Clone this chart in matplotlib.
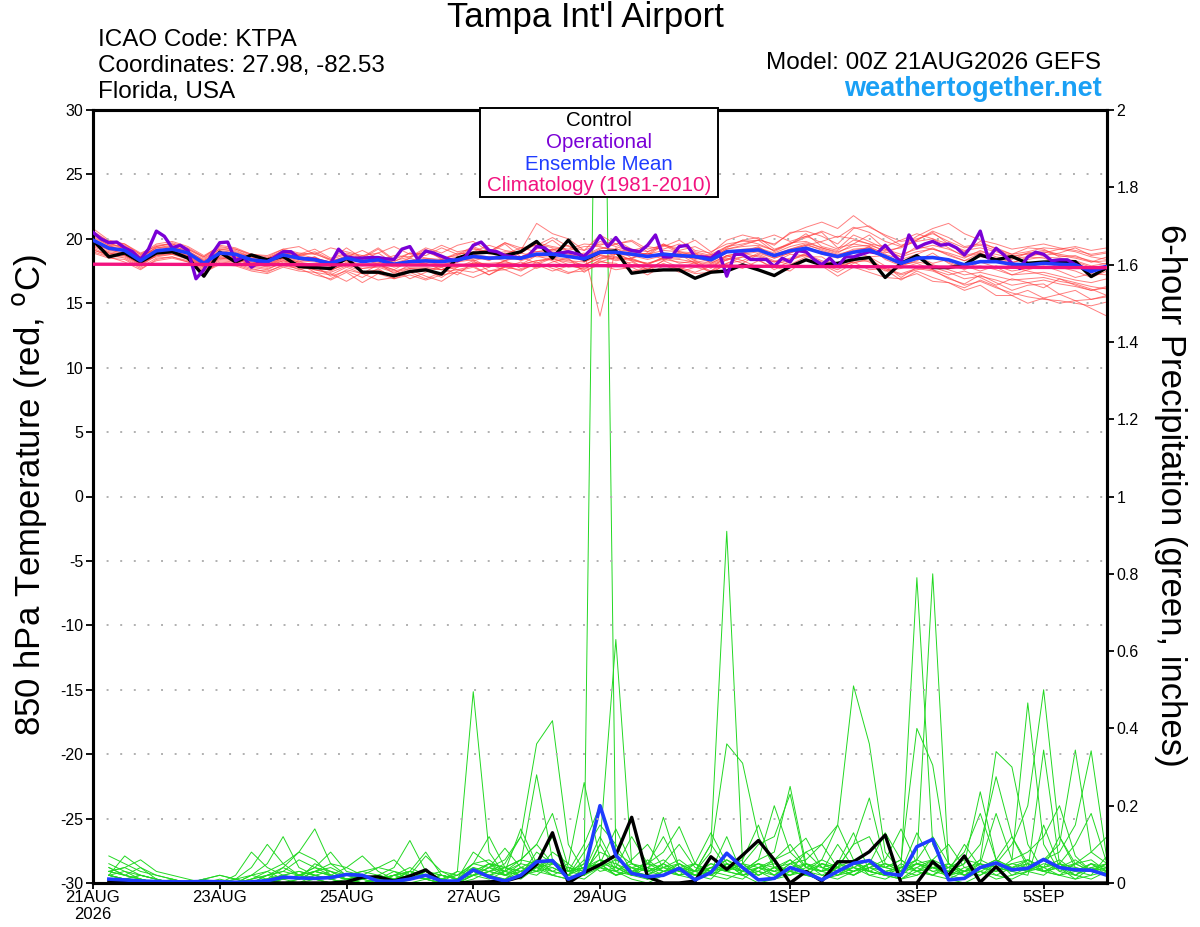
import matplotlib
matplotlib.use('Agg')
import matplotlib.pyplot as plt
from matplotlib.patches import Rectangle

plt.rcParams['font.family'] = ['Liberation Sans', 'DejaVu Sans']

# ---------------- data ----------------
temp_hours = list(range(0, 385, 6))          # 65 points
oper_hours = list(range(0, 385, 3))          # 129 points
precip_hours = list(range(6, 385, 6))        # 64 points
clim_hours = list(range(0, 385, 24))         # 17 points

xtick_hours = [0, 48, 96, 144, 192, 264, 312, 360]
xtick_labels = ['21AUG\n2026', '23AUG', '25AUG', '27AUG', '29AUG', '1SEP', '3SEP', '5SEP']

temp_ticks = [-30, -25, -20, -15, -10, -5, 0, 5, 10, 15, 20, 25, 30]
precip_ticks = [0, 0.2, 0.4, 0.6, 0.8, 1.0, 1.2, 1.4, 1.6, 1.8, 2.0]
precip_tick_labels = ['0', '0.2', '0.4', '0.6', '0.8', '1', '1.2', '1.4', '1.6', '1.8', '2']

control_temp = [19.9, 18.6, 18.9, 18.2, 18.9, 19.0, 18.5, 17.1, 18.96, 18.2, 18.75, 18.37, 18.63, 17.85, 17.77, 17.7, 18.5,
                17.41, 17.41, 17.13, 17.46, 17.59, 17.26, 18.5, 18.9, 18.96, 18.7, 19.0, 19.8, 18.5, 19.9, 18.37, 18.96,
                19.07, 17.33, 17.5, 17.59, 17.59, 16.94, 17.41, 17.5, 17.98, 17.59, 17.15, 17.85, 18.37, 17.98, 18.1, 18.4,
                18.55, 17.0, 18.1, 18.7, 17.77, 17.77, 17.98, 18.75, 18.37, 18.63, 18.1, 18.2, 18.23, 18.23, 17.07, 17.77]

mean_temp = [19.9, 19.27, 19.1, 18.3, 19.07, 19.2, 18.9, 18.1, 18.9, 18.8, 18.37, 18.23, 18.75, 18.5, 18.37, 18.1, 18.5,
             18.23, 18.37, 18.03, 18.23, 18.29, 18.23, 18.37, 18.63, 18.5, 18.55, 18.5, 18.81, 18.81, 18.63, 18.45, 18.96,
             18.96, 18.81, 18.63, 18.81, 18.7, 18.63, 18.37, 19.0, 19.07, 19.14, 18.7, 19.07, 19.27, 18.9, 18.63, 18.96,
             19.14, 18.63, 18.1, 18.5, 18.55, 18.37, 17.98, 18.23, 18.23, 18.03, 17.98, 18.1, 18.03, 17.98, 17.46, 17.85]

oper_temp = [20.5, 20.0, 19.7, 19.75, 19.3, 19.0, 18.4, 19.2, 20.6, 20.2, 19.3, 19.5, 19.1, 16.9, 17.6, 18.8, 19.7,
             19.75, 18.3, 18.6, 17.8, 18.2, 18.2, 18.6, 19.0, 19.0, 18.5, 18.45, 18.4, 18.2, 18.1, 19.2, 18.6,
             18.5, 18.5, 18.55, 18.55, 18.45, 18.4, 19.2, 19.4, 18.4, 19.05, 18.9, 18.65, 18.4, 18.3, 18.6, 19.5,
             19.75, 19.1, 19.0, 18.7, 18.6, 18.5, 18.7, 19.4, 19.3, 18.8, 18.9, 19.0, 18.85, 18.65, 19.25, 20.25,
             19.4, 20.1, 19.3, 19.1, 19.0, 19.5, 20.3, 18.6, 18.6, 19.4, 19.5, 18.6, 18.6, 18.5, 19.0, 17.1,
             18.8, 18.8, 18.4, 18.4, 18.4, 17.85, 18.5, 18.2, 19.07, 19.0, 18.4, 18.0, 18.5, 17.85, 18.6, 18.6,
             18.8, 19.0, 18.9, 19.5, 18.8, 18.2, 20.3, 19.3, 19.6, 19.8, 19.5, 19.6, 19.3, 18.75, 19.5, 20.6,
             18.5, 19.27, 18.75, 18.1, 17.7, 18.6, 18.96, 18.8, 18.3, 18.37, 18.37, 18.0, 17.77, 17.6, 17.77, 17.85]

climatology = [18.03, 18.02, 18.01, 18.0, 17.98, 17.97, 17.95, 17.94, 17.92, 17.9, 17.88, 17.86, 17.84, 17.82, 17.8, 17.78, 17.76]

member_temps = [
    [20.2, 19.5, 19.0, 18.6, 19.3, 19.5, 19.0, 18.4, 19.2, 19.0, 18.6, 18.3, 18.9,
     18.8, 18.5, 18.2, 18.7, 18.4, 18.9, 18.1, 18.5, 19.2, 18.4, 18.8, 19.4, 18.9,
     19.6, 18.6, 19.2, 19.9, 19.0, 18.7, 19.8, 19.4, 19.0, 18.8, 19.6, 19.0, 18.7,
     18.6, 19.4, 19.6, 19.9, 19.0, 19.6, 20.2, 19.7, 19.2, 20.3, 19.8, 19.2, 18.6,
     19.0, 19.2, 18.8, 18.3, 18.6, 18.5, 18.2, 18.4, 18.6, 18.5, 18.3, 17.9, 18.1],
    [19.6, 18.9, 18.7, 18.0, 18.8, 18.9, 18.6, 17.8, 18.5, 18.4, 18.0, 17.9, 18.4,
     18.1, 17.4, 17.2, 17.8, 17.3, 18.0, 17.6, 16.9, 17.4, 17.8, 17.2, 18.2, 18.0,
     17.6, 18.0, 18.7, 18.3, 17.8, 18.0, 18.5, 18.9, 18.3, 17.6, 18.3, 18.8, 18.1,
     17.5, 18.4, 18.9, 18.6, 18.2, 18.8, 18.7, 18.0, 17.6, 18.3, 18.6, 17.9, 17.0,
     17.8, 17.6, 16.9, 16.5, 17.2, 16.6, 16.0, 16.4, 16.5, 15.7, 16.0, 15.3, 15.6],
    [20.8, 19.9, 19.6, 18.9, 19.4, 19.7, 19.3, 18.6, 19.5, 19.3, 18.8, 18.6, 19.2,
     19.4, 18.8, 18.4, 19.3, 18.5, 19.2, 18.3, 18.6, 19.3, 18.9, 19.5, 19.8, 19.0,
     19.7, 19.3, 19.5, 20.1, 19.4, 19.1, 20.3, 19.6, 19.8, 19.0, 19.4, 19.9, 19.1,
     18.9, 19.9, 20.3, 20.0, 19.5, 20.5, 20.6, 20.2, 19.6, 20.8, 21.0, 20.2, 19.5,
     19.9, 20.5, 19.6, 19.0, 19.8, 19.2, 18.8, 19.3, 19.2, 18.6, 18.7, 18.2, 18.6],
    [19.3, 18.7, 18.9, 18.2, 18.6, 18.8, 18.4, 17.6, 18.3, 18.2, 17.9, 17.7, 18.1,
     17.6, 17.9, 17.1, 17.5, 17.0, 17.7, 16.9, 17.4, 17.6, 17.0, 17.8, 18.3, 17.5,
     17.8, 18.2, 17.7, 18.2, 18.5, 17.4, 18.2, 18.6, 18.0, 17.5, 18.1, 17.6, 18.2,
     17.3, 18.1, 18.6, 18.4, 17.6, 18.3, 18.9, 18.0, 17.4, 18.1, 18.5, 17.6, 16.8,
     17.5, 17.0, 16.6, 16.2, 16.8, 16.3, 15.6, 16.0, 15.4, 15.0, 15.2, 14.6, 14.0],
    [20.0, 19.3, 19.2, 18.4, 19.0, 19.1, 18.8, 18.2, 18.8, 18.7, 18.4, 18.1, 18.6,
     18.4, 18.6, 18.0, 18.3, 18.7, 18.2, 17.9, 18.5, 18.1, 18.4, 18.2, 18.7, 18.3,
     18.9, 18.3, 18.7, 19.2, 18.6, 18.9, 14.0, 19.3, 18.5, 18.9, 18.4, 18.8, 18.4,
     18.8, 18.3, 19.0, 19.4, 18.6, 19.0, 19.3, 18.8, 18.5, 18.9, 19.4, 18.4, 17.9,
     18.3, 18.9, 18.1, 17.6, 18.2, 17.8, 17.2, 17.6, 17.9, 17.5, 17.0, 17.3, 17.2],
    [19.8, 19.4, 19.3, 18.5, 19.2, 19.4, 19.1, 18.3, 19.0, 18.9, 18.5, 18.4, 19.0,
     18.7, 18.9, 18.3, 18.6, 19.1, 18.5, 18.2, 18.9, 18.5, 18.4, 18.9, 18.8, 19.2,
     18.8, 19.3, 19.0, 19.1, 19.5, 18.6, 19.2, 19.6, 18.9, 18.7, 19.5, 18.9, 18.8,
     18.5, 19.2, 19.5, 19.9, 19.6, 20.4, 20.9, 21.3, 20.8, 21.8, 20.9, 20.3, 19.8,
     20.0, 20.4, 19.8, 19.3, 19.5, 19.1, 18.7, 18.8, 19.0, 18.7, 18.5, 18.2, 18.3],
    [19.1, 18.8, 18.5, 17.8, 18.5, 18.6, 18.3, 17.5, 18.1, 18.0, 17.6, 17.5, 17.9,
     17.7, 17.2, 16.9, 17.6, 17.3, 16.8, 17.0, 17.6, 17.1, 16.7, 17.5, 17.8, 17.2,
     17.9, 17.5, 18.2, 17.7, 17.3, 17.8, 18.3, 17.9, 18.2, 17.6, 18.3, 17.8, 17.4,
     17.9, 18.5, 18.1, 18.8, 18.3, 18.0, 18.6, 18.6, 17.8, 18.6, 18.2, 17.5, 17.7,
     18.1, 17.6, 17.2, 17.5, 17.0, 16.4, 16.9, 16.6, 16.2, 16.9, 16.4, 16.0, 16.3],
    [20.4, 19.6, 19.4, 18.7, 19.5, 19.6, 19.2, 18.6, 19.3, 19.2, 18.7, 18.5, 19.1,
     18.8, 19.2, 18.5, 18.9, 18.6, 19.3, 18.4, 18.9, 18.7, 19.3, 18.8, 19.0, 19.5,
     19.1, 18.9, 19.7, 19.4, 19.2, 19.6, 19.5, 19.9, 19.2, 19.0, 19.6, 19.1, 19.4,
     18.8, 19.4, 19.9, 20.1, 19.2, 19.6, 20.4, 19.4, 19.1, 19.9, 19.6, 19.0, 18.6,
     19.4, 19.2, 18.9, 18.5, 19.1, 18.6, 18.4, 18.9, 18.7, 18.9, 19.3, 18.7, 18.9],
    [19.5, 19.0, 18.8, 18.1, 18.9, 19.0, 18.7, 17.9, 18.7, 18.6, 18.2, 18.0, 18.5,
     18.2, 18.0, 17.5, 18.2, 17.9, 18.1, 17.3, 18.0, 18.1, 17.6, 18.2, 18.4, 17.8,
     18.3, 18.6, 18.1, 18.6, 18.4, 17.9, 18.7, 18.3, 18.5, 18.0, 18.6, 18.1, 18.3,
     17.7, 18.7, 18.9, 19.3, 18.6, 19.1, 19.5, 19.8, 20.2, 20.0, 19.6, 19.4, 19.9,
     20.4, 20.0, 19.3, 18.6, 18.9, 18.4, 17.8, 17.5, 17.2, 16.9, 16.6, 16.3, 16.1],
    [20.6, 19.8, 19.5, 18.8, 19.1, 19.3, 19.0, 18.0, 18.6, 18.5, 18.1, 17.8, 18.3,
     18.0, 17.6, 17.4, 17.9, 17.5, 17.3, 17.2, 17.7, 17.5, 17.9, 17.6, 17.4, 17.8,
     18.3, 17.7, 18.0, 18.5, 18.0, 17.6, 18.4, 18.8, 18.4, 18.0, 18.5, 18.9, 18.3,
     18.1, 18.7, 18.3, 18.9, 18.5, 18.9, 19.4, 18.9, 18.6, 19.0, 18.6, 18.7, 18.2,
     18.6, 18.1, 18.4, 17.9, 17.5, 17.9, 17.5, 17.7, 18.2, 17.8, 17.5, 17.0, 17.5],
    [19.2, 18.6, 18.6, 17.9, 18.7, 18.8, 18.5, 17.7, 18.4, 18.3, 17.8, 17.6, 18.2,
     18.0, 17.7, 17.6, 18.0, 17.7, 17.9, 17.5, 17.8, 17.8, 17.6, 17.9, 18.1, 18.1,
     18.2, 18.0, 18.3, 18.5, 18.3, 18.2, 18.7, 18.6, 18.4, 18.1, 18.5, 18.4, 18.2,
     18.0, 18.6, 18.8, 19.0, 18.5, 18.9, 19.3, 19.0, 18.7, 19.2, 19.3, 18.6, 18.0,
     18.2, 18.0, 17.6, 17.2, 17.4, 17.1, 16.8, 16.9, 17.0, 16.7, 16.5, 16.1, 15.6],
    [20.1, 19.5, 19.4, 18.6, 19.3, 19.4, 18.9, 18.3, 19.1, 18.9, 18.6, 18.5, 19.0,
     18.7, 19.0, 18.4, 18.8, 18.5, 18.3, 18.7, 18.6, 19.0, 18.5, 18.7, 19.3, 18.8,
     19.0, 18.9, 19.6, 19.3, 19.1, 19.4, 19.4, 19.0, 19.1, 19.4, 19.2, 19.6, 19.0,
     18.7, 19.3, 19.9, 19.6, 19.1, 19.7, 19.8, 19.3, 18.9, 19.6, 19.4, 18.8, 18.4,
     18.8, 19.3, 18.7, 18.3, 18.9, 18.4, 18.1, 18.6, 18.5, 18.1, 18.2, 17.8, 17.6],
    [19.7, 19.1, 18.9, 18.2, 19.0, 19.1, 18.7, 18.0, 18.8, 18.6, 18.2, 18.0, 18.6,
     18.3, 18.2, 17.9, 18.3, 18.0, 18.2, 17.8, 18.1, 18.2, 18.0, 18.3, 18.5, 18.4,
     18.5, 18.4, 18.7, 18.8, 18.6, 18.4, 18.9, 18.8, 18.7, 18.4, 18.7, 18.6, 18.5,
     18.2, 18.9, 19.1, 19.2, 18.8, 19.2, 19.5, 19.2, 18.8, 19.1, 19.3, 18.9, 19.4,
     19.8, 20.0, 19.6, 19.1, 19.3, 19.0, 18.6, 18.9, 19.1, 18.8, 18.6, 18.3, 18.0],
    [18.9, 18.5, 18.4, 17.7, 18.3, 18.5, 18.2, 17.4, 18.0, 17.9, 17.5, 17.3, 17.8,
     17.5, 17.4, 16.8, 17.4, 16.6, 17.3, 16.9, 17.2, 16.8, 17.2, 17.4, 17.0, 17.5,
     17.6, 17.1, 17.8, 17.9, 17.4, 17.5, 18.0, 17.6, 17.8, 17.2, 17.9, 17.7, 17.3,
     17.4, 18.0, 17.7, 18.3, 17.8, 17.5, 18.4, 17.9, 17.1, 17.8, 17.4, 17.0, 16.9,
     17.3, 16.7, 16.6, 16.0, 16.4, 15.6, 15.6, 15.0, 15.4, 15.7, 15.2, 15.3, 15.5],
    [20.3, 19.7, 19.2, 18.5, 19.4, 19.6, 19.2, 18.5, 19.2, 19.1, 18.6, 18.4, 18.9,
     18.6, 18.5, 18.2, 18.5, 18.3, 18.5, 18.1, 18.3, 18.5, 18.3, 18.6, 18.8, 18.6,
     18.7, 18.6, 19.0, 19.2, 18.9, 18.7, 19.3, 19.2, 19.0, 18.8, 19.1, 19.0, 18.9,
     18.6, 19.2, 19.4, 19.5, 19.1, 19.6, 20.1, 20.6, 20.1, 20.9, 20.5, 19.8, 19.4,
     20.2, 20.8, 21.2, 20.4, 19.9, 19.6, 19.2, 19.4, 19.6, 19.3, 19.1, 18.8, 19.0],
    [19.4, 18.9, 18.7, 18.0, 18.7, 18.9, 18.5, 17.8, 18.5, 18.4, 18.0, 17.9, 18.3,
     18.1, 17.9, 17.6, 18.0, 17.7, 17.8, 17.4, 17.7, 17.7, 17.6, 17.8, 18.1, 18.0,
     18.1, 18.0, 18.3, 18.4, 18.2, 18.0, 18.5, 18.5, 18.3, 18.1, 18.4, 18.2, 18.1,
     17.8, 18.4, 18.6, 18.7, 18.2, 18.5, 18.8, 18.3, 17.9, 18.2, 18.3, 17.7, 17.2,
     17.6, 17.8, 17.4, 16.9, 17.1, 16.8, 16.4, 16.6, 16.8, 16.5, 16.3, 16.0, 16.2],
    [20.0, 19.4, 19.1, 18.3, 19.1, 19.3, 18.9, 18.1, 18.9, 18.8, 18.4, 18.2, 18.8,
     18.5, 18.4, 18.1, 18.4, 18.2, 18.4, 18.0, 18.2, 18.4, 18.2, 18.4, 18.7, 18.5,
     18.6, 18.5, 18.8, 19.0, 18.8, 18.6, 19.1, 19.0, 18.8, 18.6, 18.9, 18.8, 18.7,
     18.4, 19.0, 19.2, 19.3, 18.9, 19.4, 19.7, 19.3, 19.0, 19.4, 19.5, 19.1, 19.3,
     19.9, 20.6, 20.1, 19.4, 19.6, 19.3, 18.8, 19.0, 19.3, 19.2, 19.0, 18.6, 18.4],
    [19.6, 19.2, 18.8, 18.1, 18.9, 19.0, 18.6, 17.9, 18.6, 18.5, 18.1, 17.9, 18.5,
     18.2, 18.6, 17.8, 18.1, 18.5, 18.0, 17.6, 18.3, 18.0, 17.8, 18.5, 18.3, 18.6,
     18.3, 18.9, 18.6, 18.6, 18.9, 18.2, 18.8, 18.4, 18.5, 18.9, 18.6, 18.5, 18.9,
     18.1, 18.7, 18.9, 19.1, 18.7, 19.2, 19.6, 19.1, 18.7, 19.0, 19.1, 18.5, 18.0,
     18.4, 18.6, 18.2, 17.7, 17.9, 17.6, 17.2, 17.3, 17.4, 17.1, 16.8, 16.6, 16.9],
    [20.5, 19.8, 19.6, 18.8, 19.6, 19.8, 19.4, 18.7, 19.4, 19.2, 18.8, 18.7, 19.2,
     18.9, 18.8, 19.3, 19.0, 18.7, 18.9, 19.4, 18.8, 18.9, 19.5, 19.0, 19.2, 19.0,
     19.7, 19.1, 21.2, 20.4, 20.0, 19.1, 19.6, 19.6, 19.9, 19.2, 19.5, 19.3, 19.9,
     19.0, 19.6, 19.8, 19.9, 20.3, 19.8, 20.2, 20.5, 19.3, 19.6, 20.3, 19.2, 18.8,
     19.2, 19.5, 19.2, 18.7, 19.0, 18.8, 18.5, 18.6, 18.9, 19.2, 19.4, 19.1, 19.3],
    [19.0, 18.6, 18.2, 17.6, 18.4, 18.6, 18.2, 17.3, 18.2, 18.1, 17.7, 17.4, 18.0,
     17.8, 17.6, 17.3, 16.7, 17.4, 17.6, 17.1, 17.4, 16.9, 17.4, 17.6, 17.9, 17.2,
     17.8, 17.6, 18.0, 17.5, 17.9, 17.7, 18.2, 18.1, 17.5, 17.7, 18.0, 17.4, 17.8,
     17.5, 18.1, 18.3, 17.8, 18.0, 18.4, 18.7, 18.2, 17.8, 18.2, 17.6, 17.7, 17.3,
     17.7, 17.5, 17.0, 16.4, 16.7, 16.2, 15.8, 15.5, 15.3, 15.2, 15.0, 14.8, 15.1],
]

control_precip = [0.005, 0.003, 0, 0, 0, 0, 0, 0, 0, 0, 0, 0, 0, 0, 0, 0.003,
                  0.015, 0.016, 0.005, 0.018, 0.034, 0.002, 0, 0.002, 0.003, 0.005, 0.016, 0.048, 0.13, 0, 0.027, 0.047,
                  0.072, 0.17, 0.016, 0, 0, 0.005, 0.068, 0.035, 0.072, 0.11, 0.06, 0, 0.03, 0.005, 0.055, 0.055,
                  0.081, 0.124, 0, 0, 0.055, 0.02, 0.07, 0.002, 0.042, 0, 0, 0, 0, 0, 0, 0]

mean_precip = [0.01, 0.008, 0.005, 0.004, 0.003, 0.003, 0.004, 0.003, 0.002, 0.003, 0.006, 0.015, 0.013, 0.012, 0.014, 0.022,
               0.02, 0.005, 0.004, 0.01, 0.02, 0.005, 0.005, 0.034, 0.016, 0.005, 0.02, 0.055, 0.058, 0.01, 0.027, 0.20,
               0.072, 0.025, 0.016, 0.02, 0.038, 0.008, 0.027, 0.077, 0.04, 0.008, 0.012, 0.04, 0.027, 0.008, 0.03, 0.051,
               0.058, 0.025, 0.02, 0.094, 0.113, 0.008, 0.012, 0.04, 0.052, 0.034, 0.038, 0.061, 0.04, 0.034, 0.033, 0.02]

member_precips = [
    [0.02, 0.01, 0, 0, 0, 0, 0.01, 0, 0, 0.02, 0.03, 0.01, 0, 0.02, 0.01, 0,
     0, 0.01, 0, 0.02, 0.01, 0, 0.03, 0.495, 0.08, 0.02, 0.01, 0.04, 0.06, 0.01, 0.02, 0.1,
     0.03, 0.01, 0, 0.02, 0.04, 0.01, 0.03, 0.12, 0.02, 0, 0.01, 0.03, 0.02, 0.01, 0.04, 0.06,
     0.02, 0.01, 0.03, 0.13, 0.05, 0.01, 0, 0.02, 0.04, 0.03, 0.02, 0.15, 0.04, 0.01, 0.02, 0.03],
    [0.05, 0.03, 0.02, 0.01, 0, 0, 0, 0.01, 0, 0, 0.02, 0.04, 0.02, 0.01, 0, 0,
     0.01, 0, 0.02, 0.03, 0.02, 0.01, 0, 0.02, 0.04, 0.06, 0.12, 0.36, 0.42, 0.1, 0.03, 0.05,
     0.02, 0.04, 0.01, 0.03, 0.02, 0.05, 0.02, 0.01, 0.03, 0.06, 0.08, 0.25, 0.05, 0.02, 0.01, 0.03,
     0.04, 0.02, 0.01, 0.03, 0.02, 0.05, 0.03, 0.06, 0.34, 0.30, 0.1, 0.03, 0.02, 0.01, 0.04, 0.02],
    [0.03, 0.02, 0.04, 0.01, 0, 0, 0, 0, 0.01, 0.02, 0.01, 0, 0.01, 0.03, 0.02, 0.01,
     0, 0, 0.01, 0.02, 0.01, 0, 0, 0.03, 0.02, 0.01, 0.04, 0.06, 0.03, 0.02, 0.05, 3.2,
     0.05, 0.02, 0.01, 0.03, 0.04, 0.02, 0.01, 0.05, 0.02, 0.03, 0.01, 0.02, 0.04, 0.03, 0.05, 0.13,
     0.03, 0.02, 0.01, 0.04, 0.02, 0.01, 0.03, 0.02, 0.05, 0.03, 0.04, 0.06, 0.1, 0.344, 0.08, 0.05],
    [0.01, 0, 0, 0, 0.01, 0, 0, 0, 0, 0.01, 0.02, 0.03, 0.06, 0.04, 0.02, 0.01,
     0.02, 0.01, 0, 0.01, 0.02, 0.01, 0, 0.02, 0.05, 0.03, 0.02, 0.08, 0.05, 0.03, 0.02, 0.1,
     0.63, 0.05, 0.03, 0.17, 0.04, 0.02, 0.03, 0.02, 0.01, 0.04, 0.03, 0.06, 0.02, 0.01, 0.03, 0.02,
     0.05, 0.03, 0.04, 0.79, 0.1, 0.02, 0.01, 0.03, 0.02, 0.04, 0.03, 0.02, 0.05, 0.03, 0.02, 0.07],
    [0.04, 0.02, 0.01, 0, 0, 0, 0, 0, 0, 0.01, 0.03, 0.05, 0.08, 0.14, 0.05, 0.02,
     0.01, 0, 0.01, 0.02, 0.01, 0, 0.01, 0.03, 0.02, 0.01, 0.03, 0.05, 0.04, 0.02, 0.08, 0.15,
     0.1, 0.03, 0.02, 0.04, 0.06, 0.03, 0.1, 0.91, 0.05, 0.02, 0.04, 0.03, 0.02, 0.05, 0.03, 0.04,
     0.02, 0.03, 0.01, 0.02, 0.04, 0.03, 0.05, 0.236, 0.06, 0.02, 0.03, 0.344, 0.05, 0.02, 0.01, 0.03],
    [0.02, 0.01, 0.01, 0, 0, 0, 0, 0, 0, 0, 0.01, 0.02, 0.01, 0.05, 0.03, 0.01,
     0, 0.01, 0.02, 0.04, 0.02, 0.01, 0, 0.02, 0.03, 0.05, 0.12, 0.04, 0.02, 0.01, 0.03, 0.12,
     0.04, 0.02, 0.06, 0.03, 0.05, 0.03, 0.08, 0.36, 0.31, 0.12, 0.04, 0.02, 0.03, 0.01, 0.02, 0.05,
     0.03, 0.02, 0.04, 0.06, 0.8, 0.05, 0.02, 0.03, 0.01, 0.02, 0.04, 0.03, 0.02, 0.05, 0.03, 0.02],
    [0.01, 0, 0, 0, 0, 0, 0, 0, 0, 0.02, 0.05, 0.12, 0.04, 0.02, 0.01, 0,
     0.01, 0.02, 0.01, 0, 0.01, 0.02, 0.01, 0.04, 0.02, 0.03, 0.05, 0.28, 0.06, 0.02, 0.01, 0.04,
     0.02, 0.03, 0.01, 0.02, 0.04, 0.02, 0.03, 0.05, 0.02, 0.03, 0.06, 0.1, 0.04, 0.06, 0.15, 0.51,
     0.36, 0.08, 0.03, 0.02, 0.04, 0.02, 0.03, 0.05, 0.02, 0.01, 0.03, 0.04, 0.02, 0.03, 0.05, 0.02],
    [0.03, 0.04, 0.02, 0.01, 0, 0, 0, 0, 0, 0, 0.01, 0.02, 0.03, 0.02, 0.01, 0,
     0, 0, 0.01, 0.02, 0.03, 0.01, 0, 0.01, 0.03, 0.02, 0.04, 0.03, 0.08, 0.05, 0.26, 0.06,
     0.03, 0.02, 0.04, 0.03, 0.02, 0.01, 0.04, 0.06, 0.03, 0.02, 0.04, 0.05, 0.03, 0.02, 0.04, 0.03,
     0.05, 0.04, 0.06, 0.40, 0.305, 0.05, 0.02, 0.04, 0.03, 0.06, 0.466, 0.1, 0.03, 0.02, 0.04, 0.03],
    [0.02, 0.01, 0, 0, 0, 0, 0, 0, 0, 0, 0.02, 0.03, 0.02, 0.03, 0.04, 0.02,
     0.03, 0.02, 0.04, 0.11, 0.03, 0.01, 0, 0.02, 0.03, 0.04, 0.06, 0.1, 0.18, 0.04, 0.02, 0.05,
     0.02, 0.04, 0.03, 0.05, 0.02, 0.03, 0.02, 0.04, 0.03, 0.05, 0.02, 0.04, 0.03, 0.06, 0.04, 0.1,
     0.22, 0.05, 0.03, 0.04, 0.06, 0.02, 0.03, 0.04, 0.05, 0.1, 0.2, 0.5, 0.12, 0.04, 0.03, 0.05],
    [0.01, 0.01, 0.02, 0.01, 0, 0, 0, 0, 0, 0.01, 0.02, 0.01, 0.02, 0.04, 0.03, 0.01,
     0, 0.01, 0.02, 0.01, 0.03, 0.02, 0.01, 0.03, 0.05, 0.04, 0.03, 0.06, 0.05, 0.04, 0.03, 0.08,
     0.06, 0.04, 0.05, 0.08, 0.146, 0.05, 0.03, 0.04, 0.05, 0.1, 0.12, 0.23, 0.04, 0.03, 0.02, 0.04,
     0.03, 0.02, 0.04, 0.05, 0.03, 0.02, 0.04, 0.03, 0.05, 0.04, 0.03, 0.06, 0.08, 0.15, 0.342, 0.06],
    [0.02, 0.03, 0.01, 0, 0, 0, 0, 0, 0.01, 0.04, 0.1, 0.05, 0.02, 0.01, 0, 0,
     0, 0.01, 0, 0.01, 0.02, 0.03, 0.02, 0.05, 0.12, 0.04, 0.02, 0.03, 0.04, 0.02, 0.04, 0.06,
     0.04, 0.03, 0.02, 0.05, 0.03, 0.02, 0.04, 0.03, 0.02, 0.04, 0.03, 0.02, 0.05, 0.03, 0.04, 0.02,
     0.04, 0.03, 0.02, 0.05, 0.04, 0.03, 0.05, 0.1, 0.275, 0.12, 0.04, 0.03, 0.05, 0.1, 0.18, 0.05],
    [0.01, 0, 0, 0, 0, 0, 0.01, 0.02, 0.01, 0, 0.01, 0.02, 0.01, 0.03, 0.05, 0.04,
     0.07, 0.03, 0.01, 0.02, 0.01, 0, 0.01, 0.02, 0.01, 0.03, 0.02, 0.04, 0.05, 0.03, 0.1, 0.2,
     0.08, 0.05, 0.03, 0.02, 0.04, 0.03, 0.02, 0.05, 0.03, 0.04, 0.02, 0.05, 0.08, 0.1, 0.15, 0.06,
     0.03, 0.02, 0.05, 0.03, 0.02, 0.04, 0.06, 0.05, 0.18, 0.06, 0.08, 0.12, 0.2, 0.07, 0.03, 0.04],
    [0.07, 0.05, 0.03, 0.02, 0.01, 0, 0, 0, 0, 0, 0, 0.01, 0.02, 0.01, 0, 0.01,
     0.02, 0.01, 0.03, 0.02, 0.07, 0.03, 0.01, 0.02, 0.04, 0.02, 0.03, 0.05, 0.02, 0.01, 0.03, 0.04,
     0.03, 0.05, 0.04, 0.06, 0.03, 0.05, 0.13, 0.05, 0.03, 0.06, 0.2, 0.08, 0.04, 0.03, 0.05, 0.04,
     0.06, 0.04, 0.03, 0.05, 0.06, 0.04, 0.08, 0.18, 0.06, 0.04, 0.03, 0.05, 0.04, 0.06, 0.03, 0.02],
    [0.03, 0.04, 0.06, 0.03, 0.02, 0.01, 0, 0, 0, 0, 0, 0, 0.01, 0.02, 0.03, 0.02,
     0.01, 0.02, 0.01, 0.03, 0.08, 0.02, 0.01, 0.03, 0.02, 0.04, 0.03, 0.02, 0.05, 0.03, 0.04, 0.05,
     0.02, 0.03, 0.05, 0.04, 0.02, 0.03, 0.04, 0.03, 0.05, 0.04, 0.06, 0.08, 0.116, 0.04, 0.03, 0.05,
     0.04, 0.06, 0.14, 0.05, 0.03, 0.04, 0.02, 0.05, 0.04, 0.03, 0.05, 0.04, 0.06, 0.03, 0.05, 0.04],
    [0.02, 0.07, 0.04, 0.02, 0.01, 0, 0, 0, 0, 0, 0.01, 0, 0, 0.01, 0.02, 0.01,
     0.02, 0.04, 0.03, 0.01, 0.02, 0.01, 0.02, 0.05, 0.06, 0.03, 0.14, 0.05, 0.03, 0.02, 0.06, 0.03,
     0.04, 0.02, 0.05, 0.12, 0.04, 0.03, 0.05, 0.04, 0.06, 0.15, 0.04, 0.03, 0.05, 0.04, 0.02, 0.03,
     0.05, 0.03, 0.04, 0.06, 0.12, 0.05, 0.03, 0.04, 0.06, 0.04, 0.05, 0.03, 0.04, 0.05, 0.06, 0.03],
    [0.01, 0, 0.01, 0, 0, 0, 0, 0, 0, 0, 0, 0.01, 0.02, 0.03, 0.02, 0.04,
     0.02, 0.01, 0.02, 0.03, 0.01, 0.02, 0.01, 0.08, 0.05, 0.02, 0.04, 0.03, 0.06, 0.03, 0.04, 0.05,
     0.14, 0.05, 0.03, 0.04, 0.05, 0.02, 0.04, 0.03, 0.05, 0.02, 0.04, 0.03, 0.02, 0.05, 0.04, 0.1,
     0.12, 0.04, 0.03, 0.05, 0.04, 0.03, 0.02, 0.04, 0.03, 0.05, 0.04, 0.06, 0.03, 0.05, 0.08, 0.12],
    [0.04, 0.02, 0.01, 0, 0, 0, 0.01, 0.02, 0.01, 0, 0.01, 0.04, 0.08, 0.06, 0.02, 0.01,
     0, 0.01, 0.02, 0.01, 0.02, 0.01, 0.02, 0.04, 0.03, 0.02, 0.05, 0.04, 0.03, 0.05, 0.02, 0.04,
     0.03, 0.06, 0.1, 0.04, 0.03, 0.02, 0.05, 0.03, 0.02, 0.04, 0.05, 0.03, 0.08, 0.04, 0.05, 0.03,
     0.05, 0.13, 0.06, 0.03, 0.04, 0.05, 0.03, 0.04, 0.06, 0.12, 0.05, 0.03, 0.04, 0.02, 0.05, 0.03],
    [0.02, 0.01, 0.02, 0.01, 0, 0, 0, 0, 0.02, 0.08, 0.04, 0.02, 0.01, 0.03, 0.02, 0.01,
     0.01, 0.02, 0.01, 0.03, 0.02, 0.01, 0.03, 0.02, 0.04, 0.09, 0.04, 0.03, 0.02, 0.04, 0.03, 0.06,
     0.05, 0.03, 0.04, 0.02, 0.05, 0.03, 0.1, 0.04, 0.03, 0.05, 0.04, 0.06, 0.03, 0.05, 0.04, 0.02,
     0.04, 0.05, 0.03, 0.06, 0.04, 0.03, 0.1, 0.04, 0.05, 0.03, 0.06, 0.04, 0.05, 0.03, 0.04, 0.05],
    [0.03, 0.02, 0.01, 0, 0, 0, 0, 0, 0, 0, 0.01, 0.02, 0.03, 0.02, 0.01, 0.02,
     0.03, 0.04, 0.06, 0.02, 0.01, 0.02, 0.01, 0.03, 0.05, 0.04, 0.06, 0.05, 0.12, 0.03, 0.05, 0.04,
     0.06, 0.04, 0.03, 0.05, 0.1, 0.04, 0.03, 0.05, 0.04, 0.03, 0.02, 0.05, 0.06, 0.1, 0.04, 0.03,
     0.05, 0.04, 0.06, 0.03, 0.05, 0.04, 0.03, 0.06, 0.04, 0.05, 0.06, 0.04, 0.12, 0.05, 0.03, 0.04],
    [0.02, 0.01, 0, 0, 0, 0, 0, 0, 0, 0, 0, 0.01, 0.02, 0.04, 0.08, 0.03,
     0.02, 0.01, 0.02, 0.01, 0.03, 0.02, 0.01, 0.05, 0.04, 0.03, 0.06, 0.1, 0.05, 0.03, 0.04, 0.05,
     0.04, 0.12, 0.05, 0.03, 0.04, 0.05, 0.03, 0.06, 0.04, 0.05, 0.03, 0.04, 0.05, 0.03, 0.1, 0.04,
     0.03, 0.05, 0.04, 0.03, 0.06, 0.1, 0.04, 0.05, 0.03, 0.04, 0.06, 0.03, 0.05, 0.04, 0.03, 0.05],
]

# ---------------- colours ----------------
C_CONTROL = '#000000'
C_OPER = '#7a00d6'
C_MEAN = '#1f3cff'
C_CLIM = '#f2127f'
C_MEMBER_T = '#ff3a3a'
C_MEMBER_P = '#22d822'
C_SITE = '#1aa0f5'

# ---------------- figure ----------------
W, H = 1200, 927
fig = plt.figure(figsize=(W / 100, H / 100), dpi=100)
ax = fig.add_axes([93 / W, 44 / H, 1014 / W, 773 / H])
ax2 = ax.twinx()
ax.set_zorder(2)
ax.patch.set_visible(False)

# precipitation (right axis)
for m in member_precips:
    ax2.plot(precip_hours[:len(m)], m, color=C_MEMBER_P, lw=0.7, zorder=1)
ax2.plot(precip_hours, control_precip, color=C_CONTROL, lw=2.4, zorder=3)
ax2.plot(precip_hours, mean_precip, color=C_MEAN, lw=2.6, zorder=4)

# temperature (left axis)
for m in member_temps:
    ax.plot(temp_hours[:len(m)], m, color=C_MEMBER_T, lw=0.7, alpha=0.65, zorder=1)
ax.plot(temp_hours, control_temp, color=C_CONTROL, lw=2.4, zorder=3)
ax.plot(oper_hours, oper_temp, color=C_OPER, lw=2.4, zorder=4)
ax.plot(temp_hours, mean_temp, color=C_MEAN, lw=2.6, zorder=5)
ax.plot(clim_hours, climatology, color=C_CLIM, lw=2.4, zorder=6)

# axes scales
ax.set_xlim(0, 384)
ax.set_ylim(-30, 30)
ax2.set_ylim(0, 2)
ax.set_xticks(xtick_hours)
ax.set_xticklabels(xtick_labels, fontsize=12)
ax.set_yticks(temp_ticks)
ax.set_yticklabels([str(t) for t in temp_ticks], fontsize=11.5)
ax2.set_yticks(precip_ticks)
ax2.set_yticklabels(precip_tick_labels, fontsize=11.5)

ax.grid(axis='y', color='#b0b0b0', linestyle=(0, (1, 6)), linewidth=1.4, zorder=0)
ax.tick_params(axis='y', direction='out', length=5, width=1.3, pad=2)
ax.tick_params(axis='x', direction='out', length=4, width=1.3, pad=1)
ax2.tick_params(axis='y', direction='out', length=5, width=1.3, pad=2)
for a in (ax, ax2):
    for s in a.spines.values():
        s.set_linewidth(2.2)
        s.set_color('black')

# labels
fig.text(30 / W, 1 - 495 / H, '850 hPa Temperature (red, $^{\\mathrm{o}}$C)', rotation=90,
         ha='center', va='center', fontsize=25)
fig.text(1170 / W, 1 - 495 / H, '6-hour Precipitation (green, inches)', rotation=270,
         ha='center', va='center', fontsize=25)

# header
fig.text(585 / W, 1 - 18 / H, "Tampa Int'l Airport", ha='center', va='center', fontsize=25)
fig.text(98 / W, 1 - 40 / H, 'ICAO Code: KTPA', ha='left', va='center', fontsize=17.5)
fig.text(98 / W, 1 - 66 / H, 'Coordinates: 27.98, -82.53', ha='left', va='center', fontsize=17.5)
fig.text(98 / W, 1 - 92 / H, 'Florida, USA', ha='left', va='center', fontsize=17.5)
fig.text(1101 / W, 1 - 63 / H, 'Model: 00Z 21AUG2026 GEFS', ha='right', va='center', fontsize=17.5)
fig.text(1102 / W, 1 - 89 / H, 'weathertogether.net', ha='right', va='center', fontsize=19.5,
         fontweight='bold', color=C_SITE)

# legend box
fig.patches.append(Rectangle((480 / W, 1 - 197 / H), 238 / W, 89 / H, transform=fig.transFigure,
                             facecolor='white', edgecolor='black', linewidth=1.4, zorder=10))
leg_items = [('Control', C_CONTROL), ('Operational', C_OPER),
             ('Ensemble Mean', C_MEAN), ('Climatology (1981-2010)', C_CLIM)]
for n, (txt, col) in enumerate(leg_items):
    fig.text(599 / W, 1 - (121 + 21.5 * n) / H, txt, ha='center', va='center',
             fontsize=14.8, color=col, zorder=11)

fig.savefig('out.png', dpi=100)
